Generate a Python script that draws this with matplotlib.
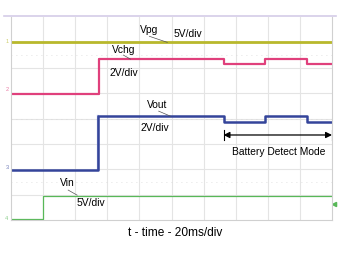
import matplotlib
matplotlib.use("Agg")
import matplotlib.pyplot as plt
from matplotlib.lines import Line2D

plt.rcParams['font.family'] = ['Liberation Sans', 'DejaVu Sans']

# time in divisions (20 ms/div), levels in screen divisions from the bottom
vpg_t = [0, 10]
vpg_v = [7.0, 7.0]

vchg_t = [0, 2.73, 2.73, 6.62, 6.62, 7.92, 7.92, 9.21, 9.21, 10]
vchg_v = [4.96, 4.96, 6.34, 6.34, 6.13, 6.13, 6.34, 6.34, 6.13, 6.13]

vout_t = [0, 2.71, 2.71, 6.62, 6.62, 7.92, 7.92, 9.21, 9.21, 10]
vout_v = [1.97, 1.97, 4.08, 4.08, 3.85, 3.85, 4.08, 4.08, 3.85, 3.85]

vin_t = [0, 1.0, 1.0, 10]
vin_v = [0.02, 0.02, 0.96, 0.96]

markers = ['1', '2', '3', '4']
marker_levels = [7.05, 5.15, 2.05, 0.07]
trig_level = 0.63

c_vpg = '#b8b82c'
c_vchg = '#e0407c'
c_vout = '#34449a'
c_vin = '#58b858'

fig = plt.figure(figsize=(3.4, 2.56), dpi=100)
ax = fig.add_axes([11 / 340, 36 / 256, 321 / 340, 203 / 256])
ax.set_xlim(0, 10)
ax.set_ylim(0, 8)

# scope graticule
for x in range(1, 10):
    ax.axvline(x, color='#e4e4e4', lw=0.8, zorder=0)
for y in range(1, 8):
    ax.axhline(y, color='#e4e4e4', lw=0.8, zorder=0)
for y in [1.5, 4, 6.5]:
    ax.axhline(y, color='#d8d8d8', lw=0.6, ls=(0, (1, 5)), zorder=0)
for s in ax.spines.values():
    s.set_color('#d0d0d0')
    s.set_linewidth(0.8)
ax.spines['top'].set_visible(False)
ax.set_xticks([])
ax.set_yticks([])

# traces
ax.plot(vpg_t, vpg_v, color=c_vpg, lw=2.0, solid_capstyle='butt')
ax.plot([vchg_t[1], vchg_t[2]], [vchg_v[1], vchg_v[2]], color='#f0a0c0', lw=1.2)
ax.plot(vchg_t, vchg_v, color=c_vchg, lw=1.6, solid_capstyle='butt')
ax.plot([vout_t[1], vout_t[2]], [vout_v[1], vout_v[2]], color='#a8b2e2', lw=1.6)
ax.plot(vout_t, vout_v, color=c_vout, lw=1.8, solid_capstyle='butt')
ax.plot(vin_t, vin_v, color=c_vin, lw=0.9)

# channel ground markers and trigger level
for m, lv, c in zip(markers, marker_levels, [c_vpg, c_vchg, c_vout, c_vin]):
    ax.text(-0.08, lv, m, color=c, fontsize=4, ha='right', va='center',
            clip_on=False, alpha=0.7)
ax.plot([10.06], [trig_level], marker='<', color=c_vin, ms=3, clip_on=False)

# labels
fs = 7.4
ax.text(4.03, 7.48, 'Vpg', fontsize=fs, va='center')
ax.plot([4.31, 4.87], [7.24, 7.0], color='#555555', lw=0.5)
ax.text(5.06, 7.32, '5V/div', fontsize=fs, va='center')

ax.text(3.16, 6.69, 'Vchg', fontsize=fs, va='center')
ax.plot([3.5, 3.72], [6.5, 6.34], color='#555555', lw=0.5)
ax.text(3.06, 5.79, '2V/div', fontsize=fs, va='center')

ax.text(4.22, 4.53, 'Vout', fontsize=fs, va='center')
ax.plot([4.6, 4.97], [4.29, 4.09], color='#555555', lw=0.5)
ax.text(4.03, 3.62, '2V/div', fontsize=fs, va='center')

ax.text(1.53, 1.46, 'Vin', fontsize=fs, va='center')
ax.plot([1.78, 2.06], [1.18, 0.98], color='#555555', lw=0.5)
ax.text(2.03, 0.67, '5V/div', fontsize=fs, va='center')

# battery detect span
ax.annotate('', xy=(6.62, 3.35), xytext=(10.0, 3.35),
            arrowprops=dict(arrowstyle='<|-|>', color='black', lw=0.9,
                            mutation_scale=9, shrinkA=0, shrinkB=0))
ax.plot([6.62, 6.62], [3.15, 3.55], color='black', lw=0.8)
ax.plot([10.0, 10.0], [3.15, 3.55], color='black', lw=0.8)
ax.text(8.34, 2.68, 'Battery Detect Mode', fontsize=fs, ha='center', va='center')

fig.text(175 / 340, (256 - 233) / 256, 't - time - 20ms/div', fontsize=8.6,
         ha='center', va='center')

# lavender top rule
fig.add_artist(Line2D([4 / 340, 336 / 340], [240 / 256, 240 / 256],
                      color='#d4cce8', lw=1.2))

fig.savefig('out.png', dpi=100)
